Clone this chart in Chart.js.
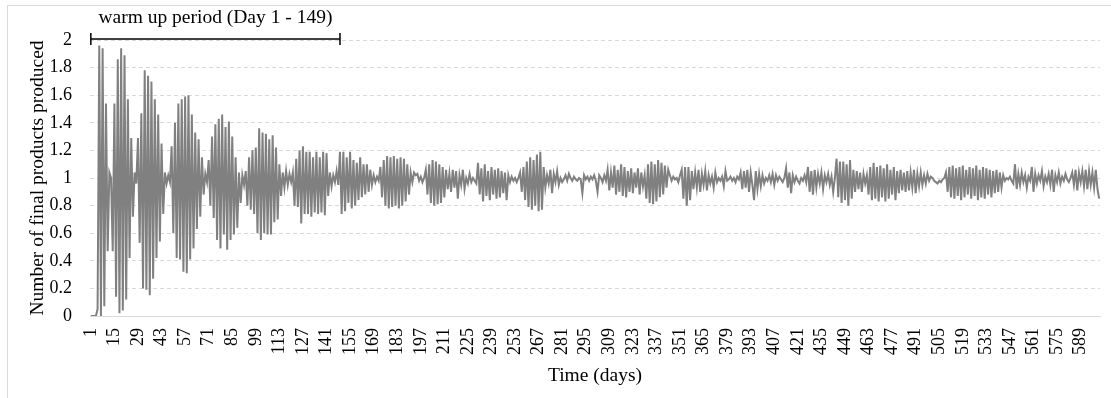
<!DOCTYPE html>
<html>
  <head>
    <script src="https://cdn.jsdelivr.net/npm/chart.js@4/dist/chart.umd.min.js"></script>
    <style>
      body { margin: 0; background: #fff; }
      #frame { position: absolute; left: 7px; top: 5px; width: 1110px; height: 400px; border-left: 1px solid #d9d9d9; border-top: 1px solid #d9d9d9; }
    </style>
  </head>

  <body>
    <div id="frame"></div>
    <canvas id="canvas" width="1111" height="398" style="position: absolute; left: 0; top: 0"></canvas>
    <script>
      // final products produced per day (days 1 - 600)
      const days1to100 = [
        0, 0, 0, 0, 0.05, 1.96, 0.00, 1.94, 0.07, 1.54,
        0.47, 1.04, 1.00, 0.47, 1.54, 0.14, 1.86, 0.02, 1.94, 0.04,
        1.89, 0.12, 1.57, 0.42, 1.29, 0.72, 1.04, 0.96, 1.29, 0.53,
        1.47, 0.20, 1.78, 0.19, 1.74, 0.15, 1.70, 0.27, 1.57, 0.42,
        1.46, 0.54, 1.25, 0.74, 1.04, 0.96, 1.02, 0.97, 1.23, 0.60,
        1.40, 0.42, 1.54, 0.41, 1.57, 0.32, 1.59, 0.31, 1.60, 0.41,
        1.46, 0.49, 1.33, 0.63, 1.28, 0.72, 1.15, 0.88, 1.03, 0.97,
        1.13, 0.80, 1.30, 0.71, 1.39, 0.55, 1.43, 0.49, 1.46, 0.59,
        1.37, 0.48, 1.41, 0.55, 1.30, 0.59, 1.15, 0.64, 1.04, 0.82,
        1.02, 0.95, 1.05, 0.80, 1.15, 0.77, 1.20, 0.74, 1.22, 0.60
      ];
      const days101to200 = [
        1.36, 0.55, 1.33, 0.60, 1.32, 0.59, 1.28, 0.59, 1.31, 0.68,
        1.22, 0.70, 1.10, 0.87, 1.04, 0.93, 1.05, 0.95, 1.03, 0.97,
        1.04, 0.80, 1.14, 0.79, 1.20, 0.67, 1.23, 0.74, 1.19, 0.74,
        1.19, 0.72, 1.15, 0.75, 1.19, 0.74, 1.15, 0.75, 1.19, 0.73,
        1.18, 0.87, 1.04, 0.94, 1.02, 0.97, 1.05, 0.95, 1.19, 0.74,
        1.19, 0.76, 1.15, 0.82, 1.19, 0.78, 1.13, 0.80, 1.11, 0.84,
        1.15, 0.86, 1.10, 0.88, 1.10, 0.90, 1.06, 0.95, 1.02, 0.97,
        1.01, 0.98, 1.08, 0.86, 1.13, 0.80, 1.16, 0.78, 1.15, 0.79,
        1.16, 0.80, 1.14, 0.78, 1.15, 0.80, 1.14, 0.83, 1.10, 0.88,
        1.04, 0.97, 1.04, 1.02, 1.03, 0.98, 1.01, 0.97, 1.00, 1.06
      ];
      const days201to300 = [
        0.88, 1.10, 0.82, 1.13, 0.80, 1.12, 0.81, 1.10, 0.82, 1.08,
        0.86, 1.06, 0.92, 1.03, 0.90, 1.06, 0.93, 1.05, 0.85, 1.02,
        0.95, 1.06, 0.92, 1.00, 0.96, 1.03, 0.97, 1.00, 0.98, 0.96,
        1.11, 0.88, 1.07, 0.83, 1.10, 0.87, 1.05, 0.84, 1.08, 0.88,
        1.06, 0.85, 1.07, 0.86, 1.05, 0.89, 1.04, 0.84, 1.02, 0.97,
        1.01, 0.98, 1.00, 0.97, 1.00, 1.04, 0.90, 1.08, 0.84, 1.12,
        0.79, 1.15, 0.77, 1.13, 0.80, 1.17, 0.76, 1.19, 0.77, 1.08,
        0.93, 1.02, 0.96, 1.06, 0.89, 1.03, 0.97, 1.05, 0.95, 1.00,
        0.97, 0.99, 1.02, 0.98, 1.03, 1.00, 0.98, 1.01, 0.99, 0.98,
        1.00, 0.99, 0.89, 1.02, 0.99, 1.01, 0.98, 1.01, 0.99, 1.02
      ];
      const days301to400 = [
        0.98, 0.90, 1.02, 1.00, 0.97, 1.02, 0.98, 1.06, 0.91, 1.04,
        0.93, 1.09, 0.88, 1.06, 0.90, 1.10, 0.87, 1.08, 0.86, 1.05,
        0.90, 1.07, 0.89, 1.04, 0.93, 1.07, 0.88, 1.04, 0.94, 1.02,
        0.85, 1.10, 0.82, 1.12, 0.81, 1.10, 0.83, 1.13, 0.86, 1.11,
        0.88, 1.09, 0.93, 1.06, 1.02, 0.98, 1.01, 0.99, 1.00, 0.97,
        1.02, 1.06, 0.85, 1.08, 0.80, 1.08, 0.84, 1.05, 0.92, 1.04,
        0.93, 1.06, 0.90, 1.03, 0.95, 1.05, 0.91, 1.02, 0.96, 1.01,
        0.93, 1.04, 0.97, 1.00, 0.98, 1.01, 0.94, 1.05, 0.98, 0.99,
        1.01, 0.98, 1.00, 0.97, 1.01, 0.99, 1.04, 0.92, 1.05, 0.93,
        1.06, 0.90, 1.04, 0.95, 0.84, 1.05, 0.92, 1.03, 0.94, 1.02
      ];
      const days401to500 = [
        0.96, 1.00, 0.98, 1.02, 0.97, 1.03, 0.95, 1.02, 0.98, 1.01,
        0.99, 0.97, 1.00, 1.07, 0.93, 1.04, 0.89, 1.02, 0.97, 1.01,
        0.98, 0.96, 1.00, 0.98, 1.02, 0.97, 1.08, 0.90, 1.05, 0.88,
        1.06, 0.93, 1.03, 0.96, 1.04, 0.92, 1.02, 0.97, 1.03, 0.95,
        1.01, 0.90, 1.00, 1.14, 0.86, 1.12, 0.82, 1.12, 0.84, 1.10,
        0.80, 1.13, 0.85, 1.06, 0.90, 1.05, 0.92, 1.04, 0.90, 1.03,
        0.96, 1.02, 0.88, 1.08, 0.84, 1.11, 0.85, 1.08, 0.83, 1.09,
        0.86, 1.07, 0.83, 1.10, 0.85, 1.06, 0.88, 1.08, 0.84, 1.05,
        0.89, 1.06, 0.91, 1.04, 0.90, 1.05, 0.91, 1.04, 0.93, 1.06,
        0.89, 1.03, 0.94, 1.04, 0.95, 1.02, 0.96, 1.03, 0.98, 1.01
      ];
      const days501to600 = [
        1.00, 0.98, 0.97, 0.96, 0.98, 0.97, 0.99, 1.00, 1.04, 0.90,
        1.08, 0.86, 1.09, 0.85, 1.07, 0.87, 1.08, 0.84, 1.09, 0.86,
        1.06, 0.88, 1.08, 0.85, 1.07, 0.87, 1.09, 0.84, 1.06, 0.86,
        1.08, 0.85, 1.07, 0.88, 1.06, 0.86, 1.05, 0.89, 1.06, 0.90,
        1.04, 0.93, 1.02, 0.98, 1.00, 0.99, 1.01, 0.98, 0.96, 1.10,
        0.92, 1.03, 0.95, 1.04, 0.97, 1.02, 0.93, 1.01, 0.98, 1.08,
        0.90, 1.03, 0.96, 1.02, 0.98, 1.05, 0.94, 1.01, 0.97, 1.03,
        0.95, 1.06, 0.90, 1.02, 0.97, 1.04, 0.96, 1.01, 0.98, 1.03,
        0.99, 0.97, 1.00, 1.04, 0.95, 1.06, 0.91, 1.04, 0.97, 1.05,
        0.94, 1.06, 0.92, 1.05, 0.95, 1.04, 0.93, 1.06, 0.92, 0.85
      ];

      const produced = [].concat(days1to100, days101to200, days201to300, days301to400, days401to500, days501to600);
      const days = produced.map((v, i) => String(i + 1));
      const warmUp = { from: '1', to: '149', text: 'warm up period (Day 1 - 149)' };
      const labelEvery = 14;

      const serif = 'Liberation Serif';

      // the bracket over the warm up days
      const warmUpBracket = {
        id: 'warmUpBracket',
        afterDraw(chart) {
          const ctx = chart.ctx;
          const x = chart.scales.x;
          const y = chart.scales.y;
          const x1 = x.getPixelForValue(days.indexOf(warmUp.from));
          const x2 = x.getPixelForValue(days.indexOf(warmUp.to));
          const yy = y.getPixelForValue(2) - 1;
          ctx.save();
          ctx.strokeStyle = '#000';
          ctx.lineWidth = 1.5;
          ctx.beginPath();
          ctx.moveTo(x1, yy);
          ctx.lineTo(x2, yy);
          ctx.moveTo(x1, yy - 6);
          ctx.lineTo(x1, yy + 6);
          ctx.moveTo(x2, yy - 6);
          ctx.lineTo(x2, yy + 6);
          ctx.stroke();
          ctx.fillStyle = '#000';
          ctx.font = '19.5px "' + serif + '"';
          ctx.textAlign = 'center';
          ctx.textBaseline = 'middle';
          ctx.fillText(warmUp.text, (x1 + x2) / 2, yy - 21);
          ctx.restore();
        },
      };

      new Chart(document.getElementById('canvas').getContext('2d'), {
        type: 'line',
        data: {
          labels: days,
          datasets: [
            {
              data: produced,
              borderColor: '#808080',
              borderWidth: 2,
              pointRadius: 0,
              tension: 0,
            },
          ],
        },
        options: {
          responsive: false,
          animation: false,
          layout: {
            padding: { left: 26, right: 11, top: 40, bottom: 10 },
          },
          plugins: {
            legend: { display: false },
            tooltip: { enabled: false },
          },
          scales: {
            x: {
              offset: true,
              grid: { display: false, drawTicks: false },
              border: { display: true, color: '#d9d9d9', width: 1 },
              ticks: {
                autoSkip: false,
                maxRotation: 90,
                minRotation: 90,
                padding: 12,
                color: '#000',
                font: { family: serif, size: 18 },
                callback: (v, i) => (i % labelEvery === 0 ? days[i] : ''),
              },
              title: {
                display: true,
                text: 'Time (days)',
                color: '#000',
                font: { family: serif, size: 19.5 },
                padding: 0,
              },
              afterFit: (scale) => {
                scale.height = 72;
                scale.paddingLeft = 0;
                scale.paddingRight = 0;
              },
            },
            y: {
              min: 0,
              max: 2,
              grid: {
                drawTicks: false,
                color: (c) => (c.tick && c.tick.value === 0 ? 'rgba(0,0,0,0)' : '#d9d9d9'),
              },
              border: { display: false, dash: [4, 3] },
              ticks: {
                stepSize: 0.2,
                padding: 18,
                color: '#000',
                font: { family: serif, size: 18 },
                callback: (v) => String(Math.round(v * 10) / 10),
              },
              title: {
                display: true,
                text: 'Number of final products produced',
                color: '#000',
                font: { family: serif, size: 19.5 },
                padding: 0,
              },
              afterFit: (scale) => {
                scale.width = 64;
              },
            },
          },
        },
        plugins: [warmUpBracket],
      });
    </script>
  </body>
</html>
